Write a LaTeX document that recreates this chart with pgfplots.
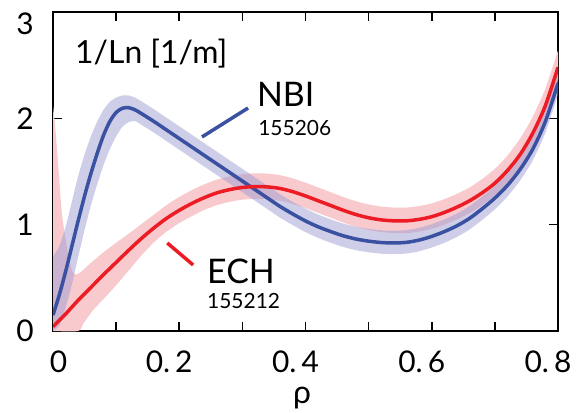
\documentclass[border=0pt]{standalone}
\usepackage{fontspec}
\setmainfont{Lato}
\usepackage{pgfplots}
\usepackage{pgfplotstable}
\pgfplotsset{compat=1.18}
\usepgfplotslibrary{fillbetween}
\definecolor{nbiline}{RGB}{58,80,160}
\definecolor{nbiband}{RGB}{158,158,210}
\definecolor{echline}{RGB}{237,28,36}
\definecolor{echband}{RGB}{248,202,206}

\pgfplotstableread{
rho v
0 0.15
0.01 0.34
0.02 0.56
0.03 0.80
0.04 1.04
0.05 1.27
0.06 1.48
0.07 1.67
0.08 1.84
0.09 1.97
0.10 2.055
0.11 2.095
0.12 2.10
0.13 2.08
0.14 2.045
0.16 1.97
0.18 1.89
0.20 1.81
0.22 1.73
0.24 1.65
0.26 1.57
0.28 1.49
0.30 1.41
0.32 1.33
0.34 1.25
0.36 1.17
0.38 1.10
0.40 1.035
0.42 0.98
0.44 0.935
0.46 0.895
0.48 0.865
0.50 0.845
0.52 0.832
0.54 0.828
0.56 0.834
0.58 0.855
0.60 0.89
0.62 0.935
0.64 0.99
0.66 1.06
0.68 1.15
0.70 1.25
0.72 1.37
0.74 1.52
0.76 1.71
0.78 1.97
0.80 2.33
}\nbi

\pgfplotstableread{
rho v
0 0.70
0.01 0.80
0.02 0.98
0.03 1.22
0.04 1.46
0.05 1.66
0.06 1.83
0.07 1.97
0.08 2.08
0.09 2.155
0.10 2.195
0.11 2.215
0.12 2.215
0.13 2.195
0.14 2.16
0.16 2.085
0.18 2.005
0.20 1.925
0.22 1.845
0.24 1.765
0.26 1.685
0.28 1.605
0.30 1.525
0.32 1.445
0.34 1.365
0.36 1.285
0.38 1.215
0.40 1.15
0.42 1.095
0.44 1.05
0.46 1.01
0.48 0.98
0.50 0.96
0.52 0.947
0.54 0.943
0.56 0.949
0.58 0.97
0.60 1.005
0.62 1.05
0.64 1.105
0.66 1.175
0.68 1.265
0.70 1.365
0.72 1.485
0.74 1.635
0.76 1.825
0.78 2.085
0.80 2.445
}\nbiup

\pgfplotstableread{
rho v
0 0.0
0.01 0.05
0.02 0.22
0.03 0.44
0.04 0.70
0.05 0.95
0.06 1.18
0.07 1.38
0.08 1.56
0.09 1.71
0.10 1.83
0.11 1.92
0.12 1.965
0.13 1.975
0.14 1.94
0.16 1.865
0.18 1.785
0.20 1.705
0.22 1.625
0.24 1.545
0.26 1.465
0.28 1.385
0.30 1.305
0.32 1.225
0.34 1.145
0.36 1.065
0.38 0.995
0.40 0.93
0.42 0.875
0.44 0.83
0.46 0.79
0.48 0.76
0.50 0.74
0.52 0.727
0.54 0.723
0.56 0.729
0.58 0.75
0.60 0.785
0.62 0.83
0.64 0.885
0.66 0.955
0.68 1.045
0.70 1.145
0.72 1.265
0.74 1.415
0.76 1.605
0.78 1.865
0.80 2.225
}\nbilo

\pgfplotstableread{
rho v
0 0.04
0.01 0.10
0.02 0.16
0.04 0.29
0.06 0.41
0.08 0.53
0.10 0.645
0.12 0.76
0.14 0.87
0.16 0.97
0.18 1.06
0.20 1.135
0.22 1.20
0.24 1.255
0.26 1.30
0.28 1.33
0.30 1.35
0.32 1.358
0.34 1.355
0.36 1.34
0.38 1.31
0.40 1.27
0.42 1.225
0.44 1.18
0.46 1.135
0.48 1.095
0.50 1.065
0.52 1.045
0.54 1.036
0.56 1.036
0.58 1.05
0.60 1.075
0.62 1.115
0.64 1.165
0.66 1.225
0.68 1.30
0.70 1.39
0.72 1.51
0.74 1.66
0.76 1.86
0.78 2.12
0.80 2.48
}\ech

\pgfplotstableread{
rho v
0 2.12
0.003 1.95
0.008 1.58
0.014 1.11
0.022 0.79
0.030 0.57
0.036 0.53
0.045 0.56
0.06 0.64
0.08 0.74
0.10 0.83
0.12 0.915
0.14 1.005
0.16 1.095
0.18 1.185
0.20 1.26
0.22 1.325
0.24 1.38
0.26 1.425
0.28 1.455
0.30 1.475
0.32 1.483
0.34 1.48
0.36 1.465
0.38 1.435
0.40 1.395
0.42 1.35
0.44 1.305
0.46 1.26
0.48 1.22
0.50 1.19
0.52 1.17
0.54 1.161
0.56 1.161
0.58 1.175
0.60 1.20
0.62 1.24
0.64 1.29
0.66 1.35
0.68 1.43
0.70 1.525
0.72 1.65
0.74 1.81
0.76 2.015
0.78 2.28
0.80 2.64
}\echup

\pgfplotstableread{
rho v
0 0.0
0.040 0.0
0.048 0.07
0.064 0.20
0.08 0.30
0.10 0.43
0.12 0.57
0.14 0.71
0.16 0.835
0.18 0.935
0.20 1.015
0.22 1.08
0.24 1.14
0.26 1.185
0.28 1.215
0.30 1.235
0.32 1.243
0.34 1.24
0.36 1.225
0.38 1.195
0.40 1.155
0.42 1.11
0.44 1.065
0.46 1.02
0.48 0.98
0.50 0.95
0.52 0.93
0.54 0.921
0.56 0.921
0.58 0.935
0.60 0.96
0.62 1.0
0.64 1.05
0.66 1.11
0.68 1.185
0.70 1.275
0.72 1.395
0.74 1.545
0.76 1.745
0.78 2.005
0.80 2.365
}\echlo

\begin{document}
\begin{tikzpicture}
\begin{axis}[
  name=ax,
  scale only axis,
  width=505bp, height=319bp,
  xmin=0, xmax=0.8, ymin=0, ymax=3,
  xtick={0.1,0.2,0.3,0.4,0.5,0.6,0.7,0.8},
  xticklabels={,0.\,2,,0.\,4,,0.\,6,,0.\,8},
  extra x ticks={0},
  extra x tick labels={0},
  extra x tick style={xticklabel style={xshift=15.5bp}},
  ytick={0,1,2},
  yticklabels={0,1,2},
  extra y ticks={3},
  extra y tick labels={3},
  extra y tick style={yticklabel style={yshift=-12bp}},
  tick align=inside,
  major tick length=9bp,
  tick style={line width=1.6bp, black},
  axis line style={line width=2.4bp},
  xticklabel style={font=\fontsize{30}{36}\selectfont, inner sep=0pt, anchor=north, yshift=-20bp, xshift=-10bp},
  yticklabel style={font=\fontsize{30}{36}\selectfont, inner sep=0pt, anchor=east, xshift=-19bp},
  xlabel={ρ},
  xlabel style={font=\fontsize{32}{38}\selectfont, inner sep=0pt, at={(axis description cs:0.493,0)}, anchor=base, yshift=-72bp},
]
\addplot[draw=none, name path=eu, smooth, tension=0.4, forget plot] table[x=rho,y=v] {\echup};
\addplot[draw=none, name path=el, smooth, tension=0.4, forget plot] table[x=rho,y=v] {\echlo};
\addplot[echband, forget plot] fill between[of=eu and el];
\addplot[draw=none, name path=nu, smooth, tension=0.4, forget plot] table[x=rho,y=v] {\nbiup};
\addplot[draw=none, name path=nl, smooth, tension=0.4, forget plot] table[x=rho,y=v] {\nbilo};
\addplot[nbiband, fill opacity=0.5, forget plot] fill between[of=nu and nl];
\addplot[nbiline, line width=3.5bp, smooth] table[x=rho,y=v] {\nbi};
\addplot[echline, line width=3.5bp, smooth] table[x=rho,y=v] {\ech};
\draw[nbiline, line width=3.5bp] (axis cs:0.309,2.097) -- (axis cs:0.236,1.825);
\draw[echline, line width=3.5bp] (axis cs:0.181,0.828) -- (axis cs:0.222,0.621);
\node[anchor=base west, inner sep=0pt, font=\fontsize{32}{38}\selectfont] at (axis cs:0.0349,2.52) {1/Ln [1/m]};
\node[anchor=base west, inner sep=0pt, font=\fontsize{34}{40}\selectfont] at (axis cs:0.323,2.107) {NBI};
\node[anchor=base west, inner sep=0pt, font=\fontsize{21}{25}\selectfont] at (axis cs:0.325,1.834) {155206};
\node[anchor=base west, inner sep=0pt, font=\fontsize{34}{40}\selectfont] at (axis cs:0.244,0.451) {ECH};
\node[anchor=base west, inner sep=0pt, font=\fontsize{21}{25}\selectfont] at (axis cs:0.244,0.216) {155212};
\end{axis}
\pgfresetboundingbox
\path[use as bounding box] ([shift={(-53bp,-81bp)}]ax.south west) rectangle ([shift={(25bp,12bp)}]ax.north east);
\end{tikzpicture}
\end{document}
